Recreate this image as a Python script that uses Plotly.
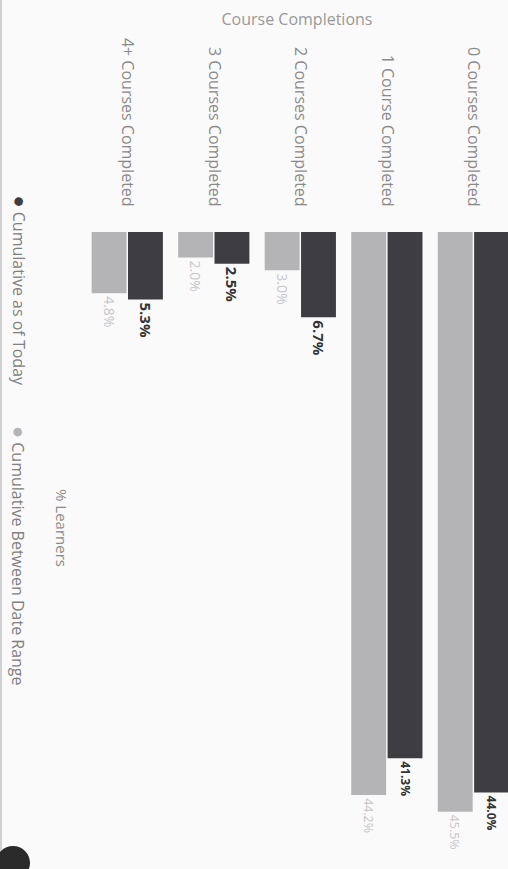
import plotly.graph_objects as go

categories = ["0 Courses Completed", "1 Course Completed", "2 Courses Completed",
              "3 Courses Completed", "4+ Courses Completed"]
today_values = [44.0, 41.3, 6.7, 2.5, 5.3]
range_values = [45.5, 44.2, 3.0, 2.0, 4.8]
series_names = ["Cumulative as of Today", "Cumulative Between Date Range"]
dark = "#3e3e42"
light = "#b4b4b7"

W, H = 508, 869
ML, MR, MT, MB = 84, 0, 232, 0
PW, PH = W - ML - MR, H - MT - MB

def px_x(px):
    return (px - ML) / PW

def px_y(py):
    return (H - MB - py) / PH

fig = go.Figure()
fig.add_trace(go.Bar(
    x=categories, y=today_values, name=series_names[0],
    marker=dict(color=dark, line=dict(width=0)),
    texttemplate="<b>%{y:.1f}%</b>", textposition="outside", textangle=90,
    textfont=dict(size=16, color="#333333", family="Open Sans"),
    cliponaxis=False, showlegend=False,
))
fig.add_trace(go.Bar(
    x=categories, y=range_values, name=series_names[1],
    marker=dict(color=light, line=dict(width=0)),
    texttemplate="%{y:.1f}%", textposition="outside", textangle=90,
    textfont=dict(size=14, color="#c6c6c8", family="Open Sans"),
    cliponaxis=False, showlegend=False,
))

fig.update_layout(
    width=W, height=H,
    margin=dict(l=ML, r=MR, t=MT, b=MB, pad=0),
    paper_bgcolor="#fafafa", plot_bgcolor="#fafafa",
    barmode="group", bargap=0.16, bargroupgap=0.04,
    font=dict(family="Open Sans", color="#888888"),
    title=dict(text="Course Completions", x=297 / W, y=1 - 19 / H,
               xanchor="center", yanchor="middle",
               font=dict(size=16, color="#999999", family="Open Sans")),
    xaxis=dict(side="top", tickangle=90, range=[4.5, -0.4],
               tickfont=dict(size=16, color="#8a8a8a", family="Open Sans"),
               ticks="", showline=False, showgrid=False, zeroline=False,
               ticklabelstandoff=22),
    yaxis=dict(range=[50, 0], showticklabels=False, showgrid=False,
               zeroline=False, showline=False, ticks=""),
)

# vertical legend and axis title
fig.add_annotation(
    xref="paper", yref="paper", x=px_x(20), y=px_y(193),
    xanchor="center", yanchor="top", textangle=90, showarrow=False,
    text=f"<span style='color:{dark};font-size:20px'>●</span> {series_names[0]}",
    font=dict(size=16, color="#808080", family="Open Sans"),
)
fig.add_annotation(
    xref="paper", yref="paper", x=px_x(20), y=px_y(424),
    xanchor="center", yanchor="top", textangle=90, showarrow=False,
    text=f"<span style='color:{light};font-size:20px'>●</span> {series_names[1]}",
    font=dict(size=16, color="#808080", family="Open Sans"),
)
fig.add_annotation(
    xref="paper", yref="paper", x=px_x(62), y=px_y(528),
    xanchor="center", yanchor="middle", textangle=90, showarrow=False,
    text="% Learners",
    font=dict(size=15, color="#8a8a8a", family="Open Sans"),
)

# left border and corner icon
fig.add_shape(type="line", xref="paper", yref="paper",
              x0=px_x(1), x1=px_x(1), y0=px_y(0), y1=px_y(869),
              line=dict(color="#d0d0d0", width=2))
fig.add_shape(type="circle", xref="paper", yref="paper",
              x0=px_x(-4), x1=px_x(30), y0=px_y(846), y1=px_y(880),
              fillcolor="#2a2a2a", line=dict(width=0))

fig.write_html("out.html",
               config={"displayModeBar": False},
               post_script="document.body.style.margin='0';document.body.style.overflow='hidden';")
